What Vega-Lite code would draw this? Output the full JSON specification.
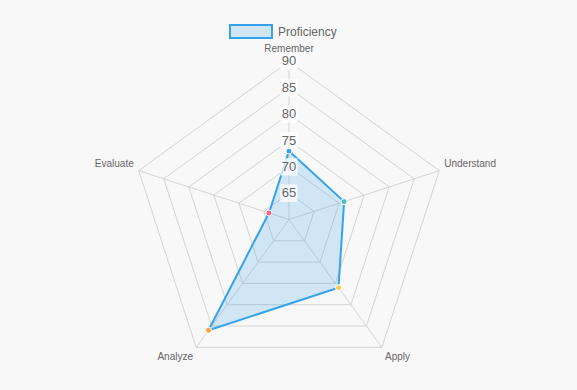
{
  "$schema": "https://vega.github.io/schema/vega-lite/v6.json",
  "width": 577,
  "height": 390,
  "autosize": "none",
  "padding": 0,
  "background": "#f8f8f8",
  "config": {"view": {"stroke": null}, "font": "Liberation Sans"},
  "datasets": {
    "scores": [
      {"skill": "Remember", "idx": 0, "value": 73},
      {"skill": "Understand", "idx": 1, "value": 71},
      {"skill": "Apply", "idx": 2, "value": 76},
      {"skill": "Analyze", "idx": 3, "value": 86},
      {"skill": "Evaluate", "idx": 4, "value": 64}
    ],
    "rings": [
      {"level": 65, "idx": [0, 1, 2, 3, 4]},
      {"level": 70, "idx": [0, 1, 2, 3, 4]},
      {"level": 75, "idx": [0, 1, 2, 3, 4]},
      {"level": 80, "idx": [0, 1, 2, 3, 4]},
      {"level": 85, "idx": [0, 1, 2, 3, 4]},
      {"level": 90, "idx": [0, 1, 2, 3, 4]}
    ],
    "ticks": [
      {"tick": 65}, {"tick": 70}, {"tick": 75}, {"tick": 80}, {"tick": 85}, {"tick": 90}
    ]
  },
  "layer": [
    {
      "data": {"name": "rings"},
      "transform": [
        {"flatten": ["idx"]},
        {"calculate": "(datum.level - 60) * sin(datum.idx * 2 * PI / 5)", "as": "x"},
        {"calculate": "(datum.level - 60) * cos(datum.idx * 2 * PI / 5)", "as": "y"}
      ],
      "mark": {"type": "line", "interpolate": "linear-closed", "stroke": "#d4d4d4", "strokeWidth": 1},
      "encoding": {
        "x": {"field": "x", "type": "quantitative", "scale": {"domain": [-54.873, 54.684], "nice": false, "zero": false}, "axis": null},
        "y": {"field": "y", "type": "quantitative", "scale": {"domain": [-32.373, 41.677], "nice": false, "zero": false}, "axis": null},
        "detail": {"field": "level"},
        "order": {"field": "idx"}
      }
    },
    {
      "data": {"name": "scores"},
      "transform": [
        {"calculate": "30 * sin(datum.idx * 2 * PI / 5)", "as": "x2"},
        {"calculate": "30 * cos(datum.idx * 2 * PI / 5)", "as": "y2"},
        {"calculate": "0", "as": "x0"}
      ],
      "mark": {"type": "rule", "stroke": "#d4d4d4", "strokeWidth": 1},
      "encoding": {
        "x": {"field": "x0", "type": "quantitative"},
        "y": {"field": "x0", "type": "quantitative"},
        "x2": {"field": "x2"},
        "y2": {"field": "y2"}
      }
    },
    {
      "data": {"name": "scores"},
      "transform": [
        {"calculate": "(datum.value - 60) * sin(datum.idx * 2 * PI / 5)", "as": "x"},
        {"calculate": "(datum.value - 60) * cos(datum.idx * 2 * PI / 5)", "as": "y"},
        {"calculate": "'Proficiency'", "as": "series"}
      ],
      "mark": {"type": "line", "interpolate": "linear-closed", "fill": "rgba(54,162,235,0.2)", "strokeWidth": 2},
      "encoding": {
        "x": {"field": "x", "type": "quantitative"},
        "y": {"field": "y", "type": "quantitative"},
        "order": {"field": "idx"},
        "stroke": {
          "field": "series",
          "type": "nominal",
          "scale": {"range": ["#36a2eb"]},
          "legend": {
            "title": null,
            "orient": "none",
            "legendX": 229,
            "legendY": 9.5,
            "padding": 0,
            "symbolType": "M-1,-0.31L1,-0.31L1,0.31L-1,0.31Z",
            "symbolSize": 1764,
            "symbolStrokeWidth": 2,
            "labelFontSize": 12,
            "labelColor": "#666666",
            "labelOffset": 5,
            "labelFont": "Liberation Sans"
          }
        }
      }
    },
    {
      "data": {"name": "scores"},
      "transform": [
        {"calculate": "(datum.value - 60) * sin(datum.idx * 2 * PI / 5)", "as": "x"},
        {"calculate": "(datum.value - 60) * cos(datum.idx * 2 * PI / 5)", "as": "y"}
      ],
      "mark": {"type": "point", "filled": true, "size": 36, "stroke": "#ffffff", "strokeWidth": 1, "opacity": 1},
      "encoding": {
        "x": {"field": "x", "type": "quantitative"},
        "y": {"field": "y", "type": "quantitative"},
        "fill": {
          "field": "skill",
          "type": "nominal",
          "scale": {"domain": ["Remember", "Understand", "Apply", "Analyze", "Evaluate"], "range": ["#36a2eb", "#4bc0c0", "#ffcd56", "#ff9f40", "#ff6384"]},
          "legend": null
        }
      }
    },
    {
      "data": {"name": "ticks"},
      "transform": [
        {"calculate": "datum.tick - 60", "as": "y"},
        {"calculate": "0", "as": "x"}
      ],
      "mark": {"type": "square", "filled": true, "size": 300, "color": "#ffffff", "opacity": 0.75},
      "encoding": {
        "x": {"field": "x", "type": "quantitative"},
        "y": {"field": "y", "type": "quantitative"}
      }
    },
    {
      "data": {"name": "ticks"},
      "transform": [
        {"calculate": "datum.tick - 60", "as": "y"},
        {"calculate": "0", "as": "x"}
      ],
      "mark": {"type": "text", "fontSize": 13, "color": "#666666", "align": "center", "baseline": "middle"},
      "encoding": {
        "x": {"field": "x", "type": "quantitative"},
        "y": {"field": "y", "type": "quantitative"},
        "text": {"field": "tick", "type": "quantitative"}
      }
    },
    {
      "data": {"name": "scores"},
      "transform": [
        {"filter": "datum.idx == 0"},
        {"calculate": "32.3 * sin(datum.idx * 2 * PI / 5)", "as": "x"},
        {"calculate": "32.3 * cos(datum.idx * 2 * PI / 5)", "as": "y"}
      ],
      "mark": {"type": "text", "fontSize": 10, "color": "#666666", "align": "center", "baseline": "middle"},
      "encoding": {
        "x": {"field": "x", "type": "quantitative"},
        "y": {"field": "y", "type": "quantitative"},
        "text": {"field": "skill"}
      }
    },
    {
      "data": {"name": "scores"},
      "transform": [
        {"filter": "datum.idx == 1"},
        {"calculate": "31 * sin(datum.idx * 2 * PI / 5)", "as": "x"},
        {"calculate": "31 * cos(datum.idx * 2 * PI / 5)", "as": "y"}
      ],
      "mark": {"type": "text", "fontSize": 10, "color": "#666666", "align": "left", "baseline": "middle", "dy": -5},
      "encoding": {
        "x": {"field": "x", "type": "quantitative"},
        "y": {"field": "y", "type": "quantitative"},
        "text": {"field": "skill"}
      }
    },
    {
      "data": {"name": "scores"},
      "transform": [
        {"filter": "datum.idx == 4"},
        {"calculate": "31 * sin(datum.idx * 2 * PI / 5)", "as": "x"},
        {"calculate": "31 * cos(datum.idx * 2 * PI / 5)", "as": "y"}
      ],
      "mark": {"type": "text", "fontSize": 10, "color": "#666666", "align": "right", "baseline": "middle", "dy": -5},
      "encoding": {
        "x": {"field": "x", "type": "quantitative"},
        "y": {"field": "y", "type": "quantitative"},
        "text": {"field": "skill"}
      }
    },
    {
      "data": {"name": "scores"},
      "transform": [
        {"filter": "datum.idx == 2"},
        {"calculate": "31 * sin(datum.idx * 2 * PI / 5)", "as": "x"},
        {"calculate": "31 * cos(datum.idx * 2 * PI / 5)", "as": "y"}
      ],
      "mark": {"type": "text", "fontSize": 10, "color": "#666666", "align": "left", "baseline": "top"},
      "encoding": {
        "x": {"field": "x", "type": "quantitative"},
        "y": {"field": "y", "type": "quantitative"},
        "text": {"field": "skill"}
      }
    },
    {
      "data": {"name": "scores"},
      "transform": [
        {"filter": "datum.idx == 3"},
        {"calculate": "31 * sin(datum.idx * 2 * PI / 5)", "as": "x"},
        {"calculate": "31 * cos(datum.idx * 2 * PI / 5)", "as": "y"}
      ],
      "mark": {"type": "text", "fontSize": 10, "color": "#666666", "align": "right", "baseline": "top"},
      "encoding": {
        "x": {"field": "x", "type": "quantitative"},
        "y": {"field": "y", "type": "quantitative"},
        "text": {"field": "skill"}
      }
    }
  ]
}
